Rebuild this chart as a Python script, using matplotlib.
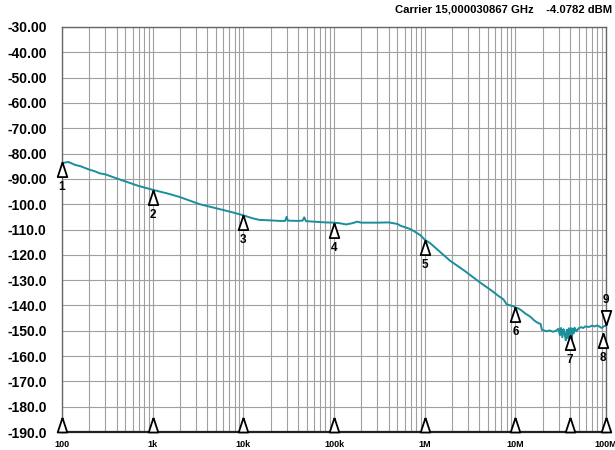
import numpy as np
import matplotlib.pyplot as plt
from matplotlib.ticker import FixedLocator, LogLocator, NullFormatter

plt.rcParams['font.family'] = ['Liberation Sans', 'DejaVu Sans']
plt.rcParams['font.weight'] = 'bold'

# phase noise trace: offset frequency (Hz) vs level (dBc/Hz)
freq = [100, 117, 140, 160, 195, 230, 260, 300, 400, 500, 700,
        1e3, 1.5e3, 2e3, 3.3e3, 5e3, 7.2e3,
        1e4, 1.27e4, 1.5e4, 2e4, 2.5e4, 2.9e4, 3.0e4, 3.1e4, 4e4, 4.5e4, 4.7e4, 4.9e4, 6e4, 8e4,
        1e5, 1.15e5, 1.36e5, 1.6e5, 1.8e5, 2e5, 3e5, 4e5, 5e5, 5.4e5, 6.9e5, 7.5e5, 9e5,
        1e6, 1.15e6, 1.9e6, 2.8e6, 4e6, 5.5e6, 6.6e6, 7.4e6, 8e6, 8.8e6, 9.5e6,
        1e7, 1.1e7, 1.2e7, 1.3e7, 1.4e7, 1.5e7, 1.6e7, 1.7e7, 1.8e7, 1.9e7, 1.96e7,
        2.05e7, 2.2e7, 2.4e7, 2.6e7, 2.8e7, 3.0e7, 3.1e7, 3.2e7, 3.3e7, 3.4e7, 3.5e7,
        3.6e7, 3.7e7, 3.8e7, 3.9e7, 4.0e7, 4.1e7, 4.2e7, 4.3e7, 4.4e7, 4.5e7, 4.7e7,
        5.0e7, 5.3e7, 5.6e7, 5.9e7, 6.5e7, 7e7, 7.5e7, 8e7, 8.5e7, 9e7, 9.5e7, 1e8]
level = [-83.8, -83.3, -84.5, -85.0, -86.2, -87.0, -87.8, -88.2, -89.8, -91.0, -92.8,
         -94.3, -95.9, -97.2, -100.0, -101.6, -103.0,
         -104.4, -105.6, -106.2, -106.4, -106.6, -106.6, -105.0, -106.5, -106.6, -106.5, -105.2, -106.7, -106.9, -107.2,
         -107.3, -107.5, -108.0, -107.5, -106.9, -107.3, -107.3, -107.2, -107.8, -108.5, -109.8, -110.5, -112.3,
         -114.0, -115.4, -122.3, -126.5, -130.7, -134.2, -136.4, -137.6, -139.5, -140.0, -140.3,
         -140.8, -141.3, -142.3, -143.3, -144.0, -144.8, -145.8, -146.5, -147.0, -147.3, -149.6,
         -149.8, -150.2, -149.9, -150.4, -150.0, -149.2, -151.8, -148.9, -152.6, -149.4, -151.2,
         -153.8, -149.6, -152.9, -149.0, -151.5, -148.9, -153.5, -149.2, -151.0, -148.8, -150.2,
         -149.0, -148.6, -148.9, -148.3, -148.5, -148.0, -148.3, -147.9, -148.4, -148.9, -148.2, -148.0]

# numbered markers on the trace
mk_freq = [100, 1e3, 1e4, 1e5, 1e6, 1e7, 4e7, 9.2e7]
mk_level = [-83.3, -94.3, -104.4, -107.3, -114.0, -140.8, -151.5, -151.0]
mk_label = ['1', '2', '3', '4', '5', '6', '7', '8']
ref_freq = 1e8
ref_level = -147.8
ref_label = '9'

# span markers sitting on the bottom edge
span_freq = [100, 1e3, 1e4, 1e5, 1e6, 1e7, 4e7, 1e8]

yticks = list(range(-30, -200, -10))
ylabels = ['-30.00', '-40.00', '-50.00', '-60.00', '-70.00', '-80.00', '-90.00',
           '-100.0', '-110.0', '-120.0', '-130.0', '-140.0', '-150.0', '-160.0',
           '-170.0', '-180.0', '-190.0']
xticks = [1e2, 1e3, 1e4, 1e5, 1e6, 1e7, 1e8]
xlabels = ['100', '1k', '10k', '100k', '1M', '10M', '100M']

fig = plt.figure(figsize=(6.15, 4.5), dpi=100)
ax = fig.add_axes([62 / 615, 18 / 450, 544 / 615, 405 / 450])
ax.set_xscale('log')
ax.set_xlim(100, 1e8)
ax.set_ylim(-190, -30)

ax.yaxis.set_major_locator(FixedLocator(yticks))
ax.set_yticklabels(ylabels, fontsize=10, fontweight='bold')
ax.xaxis.set_major_locator(FixedLocator(xticks))
ax.set_xticklabels(xlabels, fontsize=6.5, fontweight='bold')
ax.xaxis.set_minor_locator(LogLocator(base=10, subs=np.arange(2, 10)))
ax.xaxis.set_minor_formatter(NullFormatter())
ax.tick_params(axis='y', length=0, pad=11)
ax.tick_params(axis='x', which='both', length=0, pad=6)

ax.grid(True, which='both', axis='x', color='#a0a0a0', lw=0.8)
ax.grid(True, which='major', axis='y', color='#a0a0a0', lw=0.8)
ax.set_axisbelow(True)
for side in ['left', 'top', 'right']:
    ax.spines[side].set_color('#666666')
    ax.spines[side].set_linewidth(1.0)
ax.spines['bottom'].set_color('#222222')
ax.spines['bottom'].set_linewidth(1.6)

ax.plot(freq, level, color='#1b8e9b', lw=1.4, zorder=3)

tri_up = [(0, 0), (-0.33, -1), (0.33, -1), (0, 0)]
tri_down = [(0, 0), (-0.33, 1), (0.33, 1), (0, 0)]
tri_base = [(0, 1), (-0.33, 0), (0.33, 0), (0, 1)]
mk_style = dict(ms=21, mfc='white', mec='black', mew=1.3, ls='none', clip_on=False, zorder=5)

ax.plot(mk_freq, mk_level, marker=tri_up, **mk_style)
for f, v, t in zip(mk_freq, mk_level, mk_label):
    ax.annotate(t, (f, v), xytext=(0, -18), textcoords='offset points',
                ha='center', va='center', fontsize=8.5, fontweight='bold', zorder=6,
                annotation_clip=False)

ax.plot([ref_freq], [ref_level], marker=tri_down, **mk_style)
ax.annotate(ref_label, (ref_freq, ref_level), xytext=(0, 18), textcoords='offset points',
            ha='center', va='center', fontsize=8.5, fontweight='bold', zorder=6,
            annotation_clip=False)

ax.plot(span_freq, [-190] * len(span_freq), marker=tri_base, **mk_style)

fig.text(612 / 615, 1 - 10 / 450, 'Carrier 15,000030867 GHz    -4.0782 dBM',
         ha='right', va='center', fontsize=8.1, fontweight='bold')

fig.savefig('out.png', dpi=100)
